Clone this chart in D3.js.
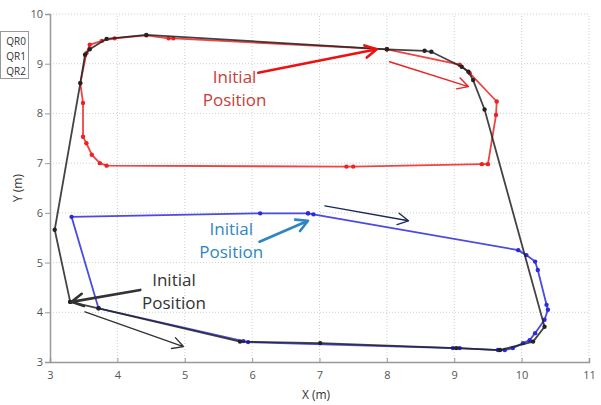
<!DOCTYPE html>
<html>
<head>
<meta charset="utf-8">
<script src="https://cdn.jsdelivr.net/npm/d3@7"></script>
<style>
	body { margin: 0; background: #fff; }
	svg { display: block; }
	text { font-family: "Open Sans", "DejaVu Sans", sans-serif; }
</style>
</head>
<body>
<script>

// trajectory of each robot, in metres, starting at its initial position
var qr0X = [3.30, 3.72, 5.82, 7.01, 9.03, 9.68, 10.17, 10.34, 9.45, 9.28, 9.21, 9.11, 8.66, 8.56, 8.00, 4.43, 3.84, 3.59, 3.52, 3.45, 3.07, 3.30];
var qr0Y = [4.21, 4.08, 3.41, 3.38, 3.28, 3.24, 3.41, 3.71, 8.08, 8.67, 8.84, 8.94, 9.24, 9.26, 9.29, 9.58, 9.50, 9.29, 9.18, 8.61, 5.66, 4.21];

var qr1X = [8.00, 9.08, 9.23, 9.63, 9.62, 9.50, 9.41, 7.50, 7.40, 3.84, 3.74, 3.62, 3.54, 3.49, 3.49, 3.45, 3.54, 3.59, 3.77, 3.96, 4.43, 4.76, 4.83, 8.00];
var qr1Y = [9.29, 8.98, 8.81, 8.24, 7.97, 6.98, 6.98, 6.93, 6.93, 6.95, 7.00, 7.17, 7.40, 7.53, 8.21, 8.61, 9.21, 9.38, 9.46, 9.51, 9.57, 9.51, 9.51, 9.29];

var qr2X = [6.83, 6.91, 9.95, 10.07, 10.20, 10.24, 10.37, 10.39, 10.34, 10.20, 10.12, 10.02, 9.87, 9.75, 9.65, 9.08, 8.98, 5.94, 5.87, 3.72, 3.32, 6.12, 6.83];
var qr2Y = [5.99, 5.97, 5.25, 5.15, 5.02, 4.85, 4.15, 4.05, 3.85, 3.58, 3.44, 3.38, 3.28, 3.24, 3.24, 3.28, 3.28, 3.40, 3.42, 4.08, 5.92, 5.99, 5.99];

var seriesNames = ['QR0', 'QR1', 'QR2'];
var seriesColors = ['#222222', '#ee2222', '#2b2bdd'];

var xTicks = [3, 4, 5, 6, 7, 8, 9, 10, 11];
var yTicks = [3, 4, 5, 6, 7, 8, 9, 10];

// "Initial Position" notes: label spot and arrow [x1, y1, x2, y2], metres
var noteX = [5.74, 5.69, 4.84];
var noteY = [8.61, 5.56, 4.53];
var noteColors = ['#c8403a', '#2e86c1', '#333333'];
var noteArrows = [[6.09, 8.82, 7.85, 9.29], [6.11, 5.42, 6.83, 5.84], [4.34, 4.45, 3.32, 4.21]];

// direction-of-travel arrows
var dirArrows = [[8.04, 9.04, 9.21, 8.54], [7.08, 6.14, 8.32, 5.84], [3.52, 4.01, 4.98, 3.31]];
var dirColors = ['#ee2222', '#1c2a55', '#333333'];

var W = 601, H = 405;
var margin = { top: 14, right: 12, bottom: 43, left: 50 };

var svg = d3.select('body')
	.append('svg')
	.attr('width', W)
	.attr('height', H)

var x = d3.scaleLinear().domain([3, 11]).range([margin.left, W - margin.right]);
var y = d3.scaleLinear().domain([3, 10]).range([H - margin.bottom, margin.top]);

// ------------------------ GRID ------------------------
svg.append('g')
	.selectAll('line')
	.data(xTicks.slice(1))
	.enter()
	.append('line')
	.attr('x1', function(d) { return x(d) })
	.attr('x2', function(d) { return x(d) })
	.attr('y1', y(3))
	.attr('y2', y(10))
	.attr('stroke', '#cfcfcf')
	.attr('stroke-dasharray', '1,2');

svg.append('g')
	.selectAll('line')
	.data(yTicks.slice(1))
	.enter()
	.append('line')
	.attr('x1', x(3))
	.attr('x2', x(11))
	.attr('y1', function(d) { return y(d) })
	.attr('y2', function(d) { return y(d) })
	.attr('stroke', '#cfcfcf')
	.attr('stroke-dasharray', '1,2');

// ------------------------ AXES ------------------------
var xAxis = svg.append('g')
	.attr('transform', 'translate(0,' + y(3) + ')')
	.call(d3.axisBottom(x).tickValues(xTicks).tickSize(-4).tickPadding(9).tickFormat(d3.format('d')));

var yAxis = svg.append('g')
	.attr('transform', 'translate(' + x(3) + ',0)')
	.call(d3.axisLeft(y).tickValues(yTicks).tickSize(5).tickPadding(2).tickFormat(d3.format('d')));

[xAxis, yAxis].forEach(function(ax) {
	ax.select('.domain').attr('stroke', '#999').attr('stroke-width', 1.5);
	ax.selectAll('.tick line').attr('stroke', '#999');
	ax.selectAll('.tick text')
		.attr('fill', '#555')
		.style('font-size', '11px');
});

svg.append('text')
	.text('X (m)')
	.attr('x', 316)
	.attr('y', 399)
	.attr('text-anchor', 'middle')
	.attr('fill', '#333')
	.style('font-size', '12px');

svg.append('text')
	.text('Y (m)')
	.attr('transform', 'translate(22,' + y(6.5) + ') rotate(-90)')
	.attr('text-anchor', 'middle')
	.attr('fill', '#333')
	.style('font-size', '12px');

// ------------------------ TRAJECTORIES ------------------------
var tracks = [
	d3.zip(qr0X, qr0Y),
	d3.zip(qr1X, qr1Y),
	d3.zip(qr2X, qr2Y)
];

var line = d3.line()
	.x(function(d) { return x(d[0]) })
	.y(function(d) { return y(d[1]) });

// draw red first so black and blue sit on top like in the figure
[1, 2, 0].forEach(function(i) {
	svg.append('path')
		.datum(tracks[i])
		.attr('d', line)
		.attr('fill', 'none')
		.attr('stroke', seriesColors[i])
		.attr('stroke-width', 1.8)
		.attr('opacity', 0.85);

	svg.append('g')
		.selectAll('circle')
		.data(tracks[i])
		.enter()
		.append('circle')
		.attr('cx', function(d) { return x(d[0]) })
		.attr('cy', function(d) { return y(d[1]) })
		.attr('r', 2.2)
		.attr('fill', seriesColors[i]);
});

// ------------------------ ARROWS ------------------------
function arrow(a, color, width, head) {
	var x1 = x(a[0]), y1 = y(a[1]), x2 = x(a[2]), y2 = y(a[3]);
	var ang = Math.atan2(y2 - y1, x2 - x1);
	var spread = 0.5;
	var p = 'M' + x1 + ',' + y1 + 'L' + x2 + ',' + y2
		+ 'M' + (x2 - head * Math.cos(ang - spread)) + ',' + (y2 - head * Math.sin(ang - spread))
		+ 'L' + x2 + ',' + y2
		+ 'L' + (x2 - head * Math.cos(ang + spread)) + ',' + (y2 - head * Math.sin(ang + spread));
	svg.append('path')
		.attr('d', p)
		.attr('fill', 'none')
		.attr('stroke', color)
		.attr('stroke-width', width)
		.attr('stroke-linecap', 'round')
		.attr('stroke-linejoin', 'round');
}

noteArrows.forEach(function(a, i) { arrow(a, i === 0 ? '#ee1111' : noteColors[i], 2.6, 13) });
dirArrows.forEach(function(a, i) { arrow(a, dirColors[i], 1.4, 12) });

// ------------------------ NOTES ------------------------
noteX.forEach(function(nx, i) {
	var t = svg.append('text')
		.attr('x', x(nx))
		.attr('y', y(noteY[i]))
		.attr('text-anchor', 'middle')
		.attr('fill', noteColors[i])
		.style('font-size', '17px');
	t.append('tspan').attr('x', x(nx)).text('Initial');
	t.append('tspan').attr('x', x(nx)).attr('dy', 23).text('Position');
});

// ------------------------ LEGEND ------------------------
svg.append('rect')
	.attr('x', 0.5)
	.attr('y', 31.5)
	.attr('width', 28)
	.attr('height', 47)
	.attr('fill', '#fff')
	.attr('stroke', '#999');

svg.selectAll('.legend')
	.data(seriesNames)
	.enter()
	.append('text')
	.attr('class', 'legend')
	.text(function(d) { return d })
	.attr('x', 26)
	.attr('y', function(d, i) { return 45 + 15 * i })
	.attr('text-anchor', 'end')
	.attr('fill', '#333')
	.style('font-size', '10px');

</script>
</body>
</html>
